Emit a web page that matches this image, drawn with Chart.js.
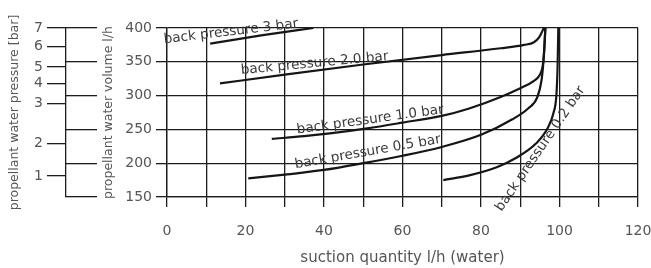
<!DOCTYPE html>
<html><head><meta charset="utf-8">
<script src="https://cdn.jsdelivr.net/npm/chart.js@4/dist/chart.umd.min.js"></script>
<style>html,body{margin:0;padding:0;background:#fff}#wrap{width:651px;height:268px;position:relative}</style>
</head><body><div id="wrap"><canvas id="c"></canvas></div>
<script>
// ---- data ----
const curveNames = ['back pressure 3 bar','back pressure 2.0 bar','back pressure 1.0 bar','back pressure 0.5 bar','back pressure 0.2 bar'];
const suction3  = [11, 24, 37.3];
const volume3   = [377, 389, 400];
const suction20 = [13.5, 30, 50, 70, 85, 91, 93.5, 94.8, 95.6, 96];
const volume20  = [318, 331, 346, 360, 370, 375, 379, 386, 395, 400];
const suction10 = [26.7, 35, 41.5, 51, 60, 70, 77, 85, 90, 93.3, 95, 95.7, 96.1, 96.4];
const volume10  = [236, 240, 244, 251.5, 260, 270, 281, 298, 311, 321, 331, 343, 365, 400];
const suction05 = [20.7, 30, 40, 50, 60, 70, 80, 88, 92, 94.3, 95.4, 95.9, 96.4];
const volume05  = [177.5, 183, 190, 200, 211, 224, 242, 265, 281, 297, 322, 350, 400];
const suction02 = [70.4, 77, 84, 89, 94, 97, 98.5, 99.2, 99.5, 99.7];
const volume02  = [175, 182, 194, 208, 229, 252, 275, 300, 340, 400];

const pressureTicks    = [1, 2, 3, 4, 5, 6, 7];           // bar
const pressureAtVolume = [181, 229, 288.5, 318, 342.5, 373, 400]; // l/h position of each bar tick
const volumeTicks      = [150, 200, 250, 300, 350, 400];

const xTitle = 'suction quantity l/h (water)';
const yTitle = 'propellant water volume l/h';
const pTitle = 'propellant water pressure [bar]';

// ---- label placement (data coordinates) ----
const labelPlacement = [
  {x: 16.4, y: 389.2, angle: -6.7},
  {x: 37.7, y: 342.3, angle: -5.4},
  {x: 51.9, y: 259.0, angle: -7.9},
  {x: 51.3, y: 211.4, angle: -9.9},
  {x: 95.9, y: 218.3, angle: -55.6}
];

const pts = (xs, ys) => xs.map((v, i) => ({x: v, y: ys[i]}));
const seriesX = [suction3, suction20, suction10, suction05, suction02];
const seriesY = [volume3, volume20, volume10, volume05, volume02];

const LINE = '#151515';
const GRID = '#1c1c1c';
const TXT = '#555';
const FONT = '"DejaVu Sans", sans-serif';

const curveLabels = {
  id: 'curveLabels',
  afterDatasetsDraw(chart) {
    const {ctx, scales: {x, y}} = chart;
    ctx.save();
    ctx.font = '13.6px ' + FONT;
    ctx.fillStyle = '#3a3a3a';
    ctx.textAlign = 'center';
    ctx.textBaseline = 'alphabetic';
    labelPlacement.forEach((p, i) => {
      ctx.save();
      ctx.translate(x.getPixelForValue(p.x), y.getPixelForValue(p.y));
      ctx.rotate(p.angle * Math.PI / 180);
      ctx.fillText(curveNames[i], 0, 0);
      ctx.restore();
    });
    ctx.restore();
  }
};

new Chart(document.getElementById('c'), {
  type: 'scatter',
  data: {
    datasets: curveNames.map((n, i) => ({
      label: n,
      data: pts(seriesX[i], seriesY[i]),
      showLine: true,
      borderColor: LINE,
      backgroundColor: LINE,
      borderWidth: 2.2,
      pointRadius: 0,
      pointHoverRadius: 0,
      cubicInterpolationMode: 'monotone',
      fill: false
    }))
  },
  options: {
    responsive: true,
    maintainAspectRatio: false,
    animation: false,
    events: [],
    layout: {padding: {left: 0, right: 0, top: 28, bottom: 0}},
    plugins: {legend: {display: false}, tooltip: {enabled: false}},
    scales: {
      x: {
        type: 'linear', position: 'bottom', min: 0, max: 120,
        afterFit: s => { s.height = 71; s.paddingRight = 13; },
        ticks: {stepSize: 10, color: TXT, font: {family: FONT, size: 14}, padding: 16,
          callback: v => (v % 20 === 0 ? v : '')},
        grid: {color: GRID, lineWidth: 1.3, tickLength: 10, tickColor: GRID},
        border: {display: true, color: GRID, width: 1.3},
        title: {display: true, text: xTitle, color: TXT, font: {family: FONT, size: 15}, padding: {top: 0, bottom: 1}}
      },
      p: {
        type: 'linear', position: 'left', min: 150, max: 400, weight: 3,
        afterFit: s => { s.width = 66; },
        afterBuildTicks: s => { s.ticks = pressureAtVolume.map(v => ({value: v})); },
        ticks: {color: TXT, font: {family: FONT, size: 14}, padding: 4,
          callback: (v, i) => pressureTicks[i]},
        grid: {drawOnChartArea: false, color: GRID, lineWidth: 1.3, tickLength: 19, tickColor: GRID},
        border: {display: true, color: GRID, width: 1.3},
        title: {display: true, text: pTitle, color: TXT, font: {family: FONT, size: 12.5}, padding: {top: 7, bottom: 0}}
      },
      v: {
        type: 'linear', position: 'left', min: 150, max: 400, weight: 2,
        afterFit: s => { s.width = 31; },
        afterBuildTicks: s => { s.ticks = volumeTicks.map(v => ({value: v})); },
        ticks: {display: false},
        grid: {drawOnChartArea: false, color: GRID, lineWidth: 1.3, tickLength: 31, tickColor: GRID},
        border: {display: false}
      },
      y: {
        type: 'linear', position: 'left', min: 150, max: 400, weight: 1,
        afterFit: s => { s.width = 70; },
        ticks: {stepSize: 25, color: TXT, font: {family: FONT, size: 14}, padding: 4,
          callback: v => (v % 50 === 0 ? v : '')},
        grid: {color: GRID, lineWidth: 1.3, tickLength: 11,
          tickColor: c => (c.tick && c.tick.value % 50 === 0 ? GRID : 'rgba(0,0,0,0)')},
        border: {display: true, color: GRID, width: 1.3},
        title: {display: true, text: yTitle, color: TXT, font: {family: FONT, size: 12.5}, padding: {top: 4, bottom: 0}}
      }
    }
  },
  plugins: [curveLabels]
});
</script>
</body></html>
